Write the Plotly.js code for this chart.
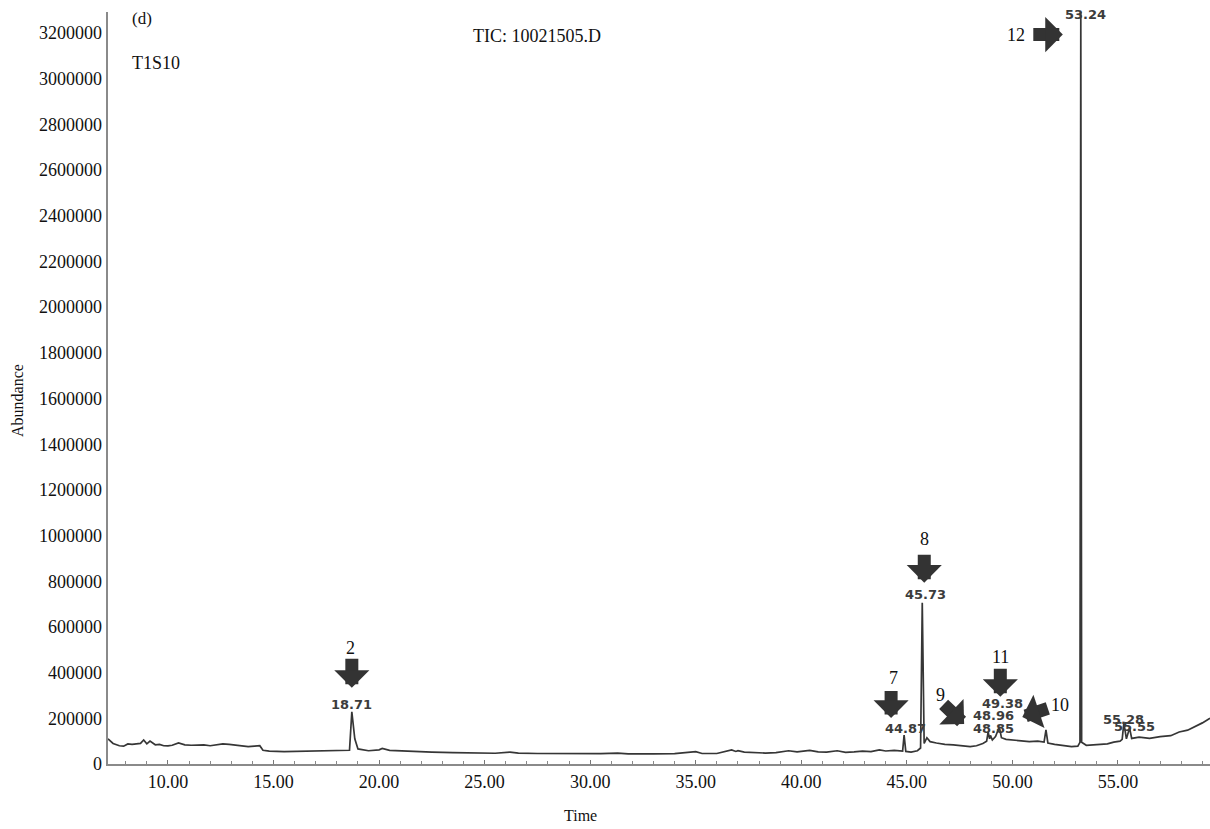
<!DOCTYPE html>
<html>
<head>
<meta charset="utf-8">
<script src="https://cdn.plot.ly/plotly-3.0.1.min.js"></script>
<style>html,body{margin:0;padding:0;background:#fff;}#chart{width:1210px;height:829px;}</style>
</head>
<body>
<div id="chart"></div>
<script>
// Retention time (min) of the chromatogram trace
const times = [
  7.16, 7.4, 7.7, 7.9, 8.1, 8.3, 8.5, 8.7, 8.85, 9.0, 9.15, 9.4, 9.6, 9.8, 10.0, 10.2, 10.5, 10.8,
  11.1, 11.4, 11.7, 12.0, 12.3, 12.6, 12.9, 13.2, 13.5, 13.8, 14.1, 14.35, 14.5, 14.8, 15.5, 16.5,
  17.5, 18.4, 18.6, 18.71, 18.85, 19.0, 19.5, 20.0, 20.15, 20.5, 21.5, 22.5, 23.5, 24.5, 25.5,
  26.2, 26.6, 27.5, 28.5, 29.5, 30.5, 31.3, 31.8, 33.0, 34.0, 35.0, 35.3, 36.0, 36.7, 36.9, 37.0,
  37.3, 37.8, 38.3, 38.8, 39.4, 39.8, 40.4, 40.8, 41.2, 41.7, 42.1, 42.5, 42.9, 43.3, 43.7, 44.0,
  44.4, 44.8, 44.87, 44.95, 45.2, 45.5, 45.65, 45.73, 45.82, 45.95, 46.1, 46.4, 46.8, 47.2, 47.6,
  48.0, 48.3, 48.6, 48.78, 48.85, 48.92, 48.96, 49.05, 49.2, 49.38, 49.48, 49.7, 50.0, 50.4, 50.8,
  51.2, 51.5, 51.59, 51.68, 52.0, 52.4, 52.8, 53.1, 53.2, 53.24, 53.28, 53.5, 54.0, 54.5, 54.8,
  55.1, 55.2, 55.28, 55.4, 55.55, 55.65, 56.0, 56.5, 57.0, 57.5, 57.9, 58.3, 58.7, 59.0, 59.36
];
// Abundance
const abundance = [
  110000, 90000, 80000, 78000, 88000, 86000, 88000, 90000, 105000, 88000, 100000, 84000, 86000, 80000, 79000, 82000, 92000, 84000,
  82000, 82000, 84000, 80000, 84000, 88000, 86000, 82000, 78000, 76000, 78000, 80000, 60000, 56000, 54000, 56000,
  57000, 57000, 60000, 228000, 110000, 66000, 58000, 62000, 68000, 60000, 55000, 52000, 50000, 48000, 47000,
  52000, 48000, 46000, 45000, 46000, 45000, 48000, 44000, 44000, 45000, 54000, 46000, 46000, 62000, 55000, 58000,
  52000, 50000, 48000, 50000, 58000, 53000, 60000, 53000, 52000, 58000, 51000, 53000, 56000, 54000, 62000, 57000,
  60000, 57000, 127000, 55000, 52000, 58000, 70000, 706000, 90000, 115000, 98000, 92000, 86000, 84000, 80000,
  76000, 80000, 90000, 100000, 140000, 110000, 125000, 105000, 120000, 162000, 115000, 108000, 105000, 100000, 98000,
  100000, 96000, 149000, 92000, 86000, 80000, 76000, 78000, 95000, 3300000, 95000, 82000, 84000, 88000, 96000,
  100000, 108000, 180000, 110000, 158000, 112000, 118000, 112000, 120000, 124000, 140000, 148000, 165000, 180000, 200000
];
// Labelled peaks
const peakTimes  = [18.71, 44.87, 45.73, 48.85, 48.96, 49.38, 53.24, 55.28, 55.55];
const peakLabels = ['18.71', '44.87', '45.73', '48.85', '48.96', '49.38', '53.24', '55.28', '55.55'];
// Compound numbers marked by arrows
const compoundIds = ['2', '7', '8', '9', '10', '11', '12'];
// Axis tick values
const yTicks = [0, 200000, 400000, 600000, 800000, 1000000, 1200000, 1400000, 1600000, 1800000, 2000000,
  2200000, 2400000, 2600000, 2800000, 3000000, 3200000];
const xTicks = [10, 15, 20, 25, 30, 35, 40, 45, 50, 55];

const serif = 'Liberation Serif, Times New Roman, serif';
const sans = 'DejaVu Sans, sans-serif';

// peak label placement: [peak index, label abundance level, xshift]
const peakLabelPlace = [
  [0, 259000, 0], [1, 153500, 1], [2, 741000, 3], [3, 156000, 5], [4, 211500, 3],
  [5, 266000, 3], [6, 3281000, 5], [7, 196000, 0], [8, 165000, 5]
];
const annotations = [];
peakLabelPlace.forEach(p => {
  annotations.push({
    x: peakTimes[p[0]], y: p[1], xref: 'x', yref: 'y', xshift: p[2],
    text: '<b>' + peakLabels[p[0]] + '</b>', showarrow: false,
    xanchor: 'center', yanchor: 'middle',
    font: {family: sans, size: 13, color: '#3c3c3c'}
  });
});
// compound number placement: [id index, peak index, level, xshift]
const idPlace = [
  [0, 0, 508800, -1], [1, 1, 377000, -11], [2, 2, 986900, 2], [3, 3, 302600, -48],
  [4, 5, 259000, 61], [5, 5, 469300, 1], [6, 6, 3193000, -65]
];
idPlace.forEach(p => {
  annotations.push({
    x: peakTimes[p[1]], y: p[2], xref: 'x', yref: 'y', xshift: p[3],
    text: compoundIds[p[0]], showarrow: false, xanchor: 'center', yanchor: 'middle',
    font: {family: serif, size: 18, color: '#111'}
  });
});
// arrows: [peak index, tip level, xshift, ax, ay]
const arrowPlace = [
  [0, 333300, 0, 0, -31], [1, 201800, -13, 0, -29], [2, 793900, 2, 0, -30],
  [5, 293900, 1, 0, -30], [3, 175400, -24, -22, -21], [5, 206100, 23, 27, -9],
  [6, 3193000, -18, -31, 0]
];
arrowPlace.forEach(p => {
  annotations.push({
    x: peakTimes[p[0]], y: p[1], xref: 'x', yref: 'y', xshift: p[2],
    ax: p[3], ay: p[4], text: ' ', font: {size: 1},
    showarrow: true, arrowhead: 1, arrowsize: 0.45, arrowwidth: 13, arrowcolor: '#333', standoff: 0
  });
});
// header texts
annotations.push({x: 8.2, y: 3263000, xref: 'x', yref: 'y', text: '(d)', showarrow: false,
  xanchor: 'left', yanchor: 'middle', font: {family: serif, size: 17, color: '#111'}});
annotations.push({x: 8.2, y: 3070000, xref: 'x', yref: 'y', text: 'T1S10', showarrow: false,
  xanchor: 'left', yanchor: 'middle', font: {family: serif, size: 18, color: '#111'}});
annotations.push({x: 27.48, y: 3189000, xref: 'x', yref: 'y', text: 'TIC: 10021505.D', showarrow: false,
  xanchor: 'center', yanchor: 'middle', font: {family: serif, size: 18, color: '#111'}});
// axis titles
annotations.push({x: -0.0826, y: 0.484, xref: 'paper', yref: 'paper', text: 'Abundance', textangle: -90,
  showarrow: false, xanchor: 'center', yanchor: 'middle', font: {family: serif, size: 16, color: '#111'}});
annotations.push({x: (580 - 108) / 1102, y: -0.068, xref: 'paper', yref: 'paper', text: 'Time',
  showarrow: false, xanchor: 'center', yanchor: 'middle', font: {family: serif, size: 16, color: '#111'}});

const trace = {
  x: times, y: abundance, type: 'scatter', mode: 'lines',
  line: {color: '#363636', width: 1.7}, hoverinfo: 'skip'
};

const layout = {
  width: 1210, height: 829,
  margin: {l: 108, r: 0, t: 12, b: 65},
  paper_bgcolor: '#fff', plot_bgcolor: '#fff',
  showlegend: false,
  xaxis: {
    range: [7.16, 59.36], tickvals: xTicks, ticktext: xTicks.map(v => v.toFixed(2)),
    showline: true, linecolor: '#8a8a8a', linewidth: 2, ticks: 'inside', ticklen: 4, tickcolor: '#777',
    showgrid: false, zeroline: false,
    minor: {dtick: 1, tick0: 0, ticks: 'inside', ticklen: 3, tickcolor: '#888', showgrid: false},
    tickfont: {family: serif, size: 18, color: '#111'}
  },
  yaxis: {
    range: [0, 3292000], tickvals: yTicks, ticktext: yTicks.map(v => String(v)),
    showline: true, linecolor: '#8a8a8a', linewidth: 2.5, ticks: '',
    showgrid: false, zeroline: false,
    tickfont: {family: serif, size: 18, color: '#111'}
  },
  annotations: annotations
};

Plotly.newPlot('chart', [trace], layout, {displayModeBar: false, staticPlot: true});
</script>
</body>
</html>
